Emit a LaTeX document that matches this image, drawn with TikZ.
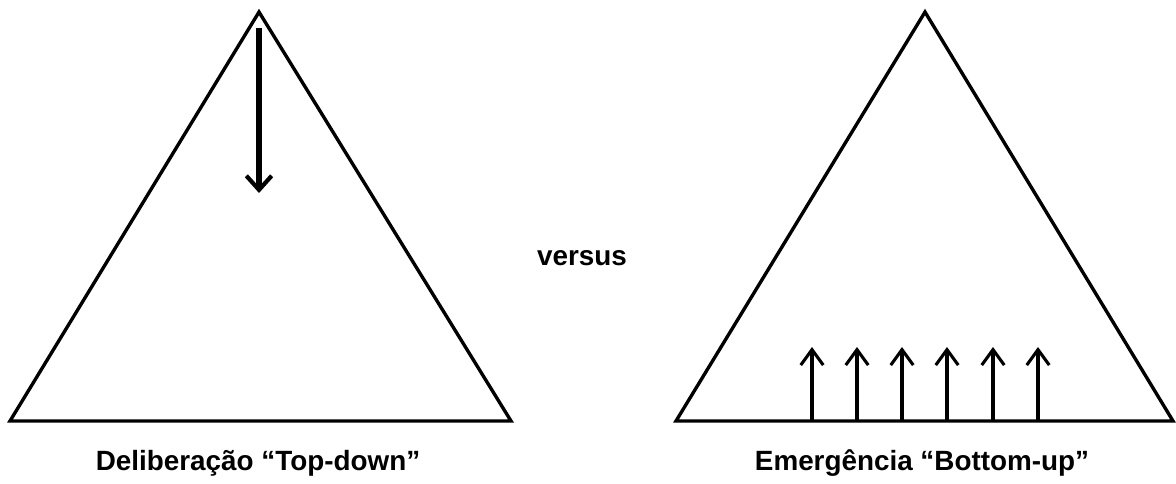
\documentclass[tikz,border=0pt]{standalone}
\usepackage{fontspec}
\setmainfont{Liberation Sans}
\usetikzlibrary{arrows.meta,positioning}
\tikzset{
  pyramid/.style={draw=black,line width=2.4pt,line join=miter},
  bigarrow/.style={-{Straight Barb[length=10pt,width=18pt,line width=3pt]},line width=3.6pt,draw=black},
  smallarrow/.style={-{Straight Barb[length=11pt,width=16pt,line width=2.2pt]},line width=2.3pt,draw=black},
  caption/.style={font=\bfseries\fontsize{19.8}{23}\selectfont,inner sep=0pt}
}
\begin{document}
\begin{tikzpicture}[x=0.025cm,y=-0.025cm]
  \useasboundingbox (0,0) rectangle (1176,484);
  % left pyramid
  \coordinate (ltop) at (259,12);
  \coordinate (lleft) at (10,421);
  \coordinate (lright) at (511,421);
  \draw[pyramid] (ltop) -- (lleft) -- (lright) -- cycle;
  \coordinate (downstart) at (259,28);
  \coordinate (downend) at (259,193);
  \draw[bigarrow] (downstart) -- (downend);
  % right pyramid
  \coordinate (rtop) at (925,12);
  \coordinate (rleft) at (676,421);
  \coordinate (rright) at (1173,421);
  \draw[pyramid] (rtop) -- (rleft) -- (rright) -- cycle;
  \foreach \i/\x in {1/812,2/857,3/902,4/947,5/993,6/1038}{
    \coordinate (up\i a) at (\x,420);
    \coordinate (up\i b) at (\x,347);
    \draw[smallarrow] (up\i a) -- (up\i b);
  }
  % captions
  \node[caption] (versus) at (582,258) {versus};
  \node[caption] (ltext) at (258,463) {Deliberação “Top-down”};
  \node[caption] (rtext) at (922,463) {Emergência “Bottom-up”};
\end{tikzpicture}
\end{document}
